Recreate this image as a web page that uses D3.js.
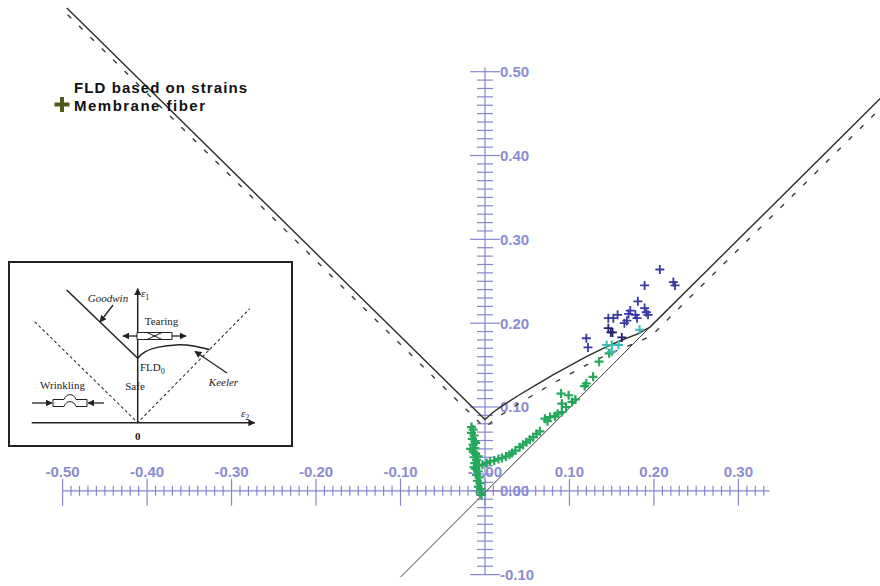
<!DOCTYPE html>
<html>
<head>
<meta charset="utf-8">
<script src="https://cdn.jsdelivr.net/npm/d3@7"></script>
<style>
  body { margin: 0; background: #fff; }
  svg { display: block; }
</style>
</head>
<body>
<svg id="chart" width="880" height="586"></svg>
<script>
// ---- axis ticks ----
const xMajorTicks = [-0.5, -0.4, -0.3, -0.2, -0.1, 0, 0.1, 0.2, 0.3];
const xTickLabels = ["-0.50", "-0.40", "-0.30", "-0.20", "-0.10", "-0.00", "0.10", "0.20", "0.30"];
const yMajorTicks = [0.5, 0.4, 0.3, 0.2, 0.1, 0, -0.1];
const yTickLabels = ["0.50", "0.40", "0.30", "0.20", "0.10", "0.00", "-0.10"];

// ---- forming limit curve (Goodwin branch + Keeler branch) ----
const flcMinor = [-0.495, 0, 0.01, 0.02, 0.04, 0.06, 0.08, 0.10, 0.12, 0.14, 0.16, 0.18, 0.195, 0.50];
const flcMajor = [0.576, 0.085, 0.094, 0.101, 0.114, 0.126, 0.138, 0.149, 0.160, 0.170, 0.179, 0.187, 0.195, 0.50];

// ---- safety curve (dashed) ----
const safeMinor = [-0.494, 0, 0.01, 0.02, 0.04, 0.06, 0.08, 0.10, 0.12, 0.14, 0.16, 0.18, 0.197, 0.50];
const safeMajor = [0.568, 0.075, 0.084, 0.091, 0.104, 0.116, 0.128, 0.139, 0.150, 0.160, 0.169, 0.177, 0.185, 0.488];

// ---- equal biaxial strain line ----
const biaxMinor = [-0.10, 0.195];
const biaxMajor = [-0.103, 0.195];

// ---- membrane fiber strains ----
const greenMinor = [-0.016, -0.014, -0.016, -0.013, -0.015, -0.012, -0.014, -0.012, -0.014, -0.011, -0.013, -0.010, -0.012, -0.009, -0.011, -0.008, -0.010, -0.007, -0.009, -0.006, -0.008, -0.005, -0.006, -0.004, -0.007, -0.011, -0.008, -0.017, -0.013,
  -0.003, 0.002, 0.006, 0.011, 0.016, 0.020, 0.025, 0.029, 0.032, 0.036, 0.041, 0.045, 0.049, 0.053, 0.057, 0.061, 0.065,
  0.071, 0.074, 0.077, 0.083, 0.086, 0.091, 0.091, 0.090, 0.099, 0.096, 0.103, 0.107, 0.118, 0.120, 0.128, 0.135, 0.147];
const greenMajor = [0.076, 0.073, 0.069, 0.066, 0.062, 0.059, 0.055, 0.051, 0.047, 0.044, 0.040, 0.037, 0.033, 0.030, 0.026, 0.023, 0.019, 0.016, 0.012, 0.009, 0.005, 0.002, -0.002, -0.005, 0.031, 0.057, 0.041, 0.050, 0.028,
  0.031, 0.033, 0.035, 0.036, 0.038, 0.039, 0.041, 0.043, 0.045, 0.048, 0.052, 0.055, 0.058, 0.061, 0.064, 0.068, 0.071,
  0.086, 0.083, 0.088, 0.089, 0.092, 0.094, 0.104, 0.116, 0.114, 0.100, 0.106, 0.109, 0.125, 0.128, 0.136, 0.154, 0.164];
const cyanMinor = [0.144, 0.150, 0.158, 0.183, 0.150];
const cyanMajor = [0.174, 0.174, 0.174, 0.192, 0.166];
const blueMinor = [0.207, 0.189, 0.225, 0.223, 0.181, 0.189, 0.191, 0.193, 0.146, 0.152, 0.157, 0.165, 0.170, 0.172, 0.178, 0.180, 0.168, 0.120, 0.122];
const blueMajor = [0.264, 0.245, 0.245, 0.249, 0.226, 0.218, 0.213, 0.210, 0.206, 0.206, 0.210, 0.200, 0.211, 0.215, 0.210, 0.206, 0.203, 0.182, 0.171];
const navyMinor = [0.146, 0.149, 0.151, 0.162];
const navyMajor = [0.194, 0.189, 0.189, 0.183];

const legendLabels = ["FLD based on strains", "Membrane fiber"];

// ---- scales ----
const x = d3.scaleLinear().domain([-0.5, 0.3]).range([62.6, 738.4]);
const y = d3.scaleLinear().domain([0, 0.5]).range([490.8, 71.7]);

const svg = d3.select("#chart");
const axisColor = "#8686d2";
const labelColor = "#8c8cd0";
const labelFont = "'Liberation Sans', Arial, sans-serif";

// ---- axes ----
const axes = svg.append("g");
// horizontal axis
axes.append("line")
  .attr("x1", x(-0.5)).attr("x2", x(0.337))
  .attr("y1", y(0)).attr("y2", y(0))
  .attr("stroke", axisColor).attr("stroke-width", 1.2);
const xMinor = d3.range(-50, 34).map(i => i / 100);
axes.selectAll(".xminor").data(xMinor).join("line")
  .attr("x1", d => x(d)).attr("x2", d => x(d))
  .attr("y1", d => Math.abs(Math.round(d * 100)) % 10 === 0 ? y(0) - 12 : y(0) - 5)
  .attr("y2", d => Math.abs(Math.round(d * 100)) % 10 === 0 ? y(0) + 15 : y(0) + 5)
  .attr("stroke", axisColor).attr("stroke-width", 1.2);
axes.selectAll(".xlab").data(xMajorTicks).join("text")
  .attr("x", d => x(d)).attr("y", y(0) - 14)
  .attr("text-anchor", "middle")
  .attr("font-family", labelFont).attr("font-weight", "bold").attr("font-size", 15)
  .attr("fill", labelColor)
  .text((d, i) => xTickLabels[i]);

// vertical axis
axes.append("line")
  .attr("x1", x(0)).attr("x2", x(0))
  .attr("y1", y(0.505)).attr("y2", y(-0.1))
  .attr("stroke", axisColor).attr("stroke-width", 1.2);
const yMinor = d3.range(-10, 51).map(i => i / 100);
axes.selectAll(".yminor").data(yMinor).join("line")
  .attr("y1", d => y(d)).attr("y2", d => y(d))
  .attr("x1", d => Math.abs(Math.round(d * 100)) % 10 === 0 ? x(0) - 15 : x(0) - 8)
  .attr("x2", d => Math.abs(Math.round(d * 100)) % 10 === 0 ? x(0) + 15 : x(0) + 8)
  .attr("stroke", axisColor).attr("stroke-width", 1.2);
axes.selectAll(".ylab").data(yMajorTicks).join("text")
  .attr("x", x(0) + 15).attr("y", d => y(d) + 5.5)
  .attr("font-family", labelFont).attr("font-weight", "bold").attr("font-size", 15)
  .attr("fill", labelColor)
  .text((d, i) => yTickLabels[i]);

// ---- curves ----
const line = d3.line().x(d => x(d[0])).y(d => y(d[1]));
const zip = (a, b) => a.map((v, i) => [v, b[i]]);

svg.append("path").datum(zip(biaxMinor, biaxMajor))
  .attr("d", line).attr("fill", "none")
  .attr("stroke", "#3a3a3a").attr("stroke-width", 1);

svg.append("path").datum(zip(safeMinor, safeMajor))
  .attr("d", line)
  .attr("fill", "none")
  .attr("stroke", "#3c3c30").attr("stroke-width", 1.4)
  .attr("stroke-dasharray", "5,11");

svg.append("path").datum(zip(flcMinor, flcMajor))
  .attr("d", line)
  .attr("fill", "none")
  .attr("stroke", "#2e2e26").attr("stroke-width", 1.4);

// ---- strain points ----
const plus = s => `M${-s},0H${s}M0,${-s}V${s}`;
function drawPoints(xs, ys, color, size, width) {
  svg.append("g").selectAll("path").data(zip(xs, ys)).join("path")
    .attr("transform", d => `translate(${x(d[0])},${y(d[1])})`)
    .attr("d", plus(size))
    .attr("stroke", color).attr("stroke-width", width).attr("fill", "none");
}
drawPoints(greenMinor, greenMajor, "#25a85a", 4.5, 2.2);
drawPoints(cyanMinor, cyanMajor, "#3cbcb4", 4.5, 2);
drawPoints(blueMinor, blueMajor, "#3838a6", 4.5, 1.8);
drawPoints(navyMinor, navyMajor, "#22226a", 4.5, 1.8);

// ---- legend ----
const legend = svg.append("g").attr("font-family", labelFont).attr("font-weight", "bold").attr("font-size", 15).attr("fill", "#111");
legend.append("text").attr("x", 74).attr("y", 93).attr("textLength", 173).attr("lengthAdjust", "spacing").text(legendLabels[0]);
legend.append("text").attr("x", 74).attr("y", 111).attr("textLength", 131).attr("lengthAdjust", "spacing").text(legendLabels[1]);
legend.append("path").attr("transform", "translate(62,104.5)").attr("d", plus(7.5))
  .attr("stroke", "#4f5a1c").attr("stroke-width", 4);

// ---- inset: forming limit diagram schematic ----
const ins = svg.append("g");
const defs = svg.append("defs");
defs.append("marker").attr("id", "arr").attr("viewBox", "0 0 10 10")
  .attr("refX", 9).attr("refY", 5).attr("markerWidth", 7).attr("markerHeight", 7)
  .attr("orient", "auto-start-reverse").attr("markerUnits", "userSpaceOnUse")
  .append("path").attr("d", "M0,0L10,5L0,10Z").attr("fill", "#222");

ins.append("rect").attr("x", 9).attr("y", 262).attr("width", 283).attr("height", 184)
  .attr("fill", "#fff").attr("stroke", "#222").attr("stroke-width", 2);

const ix = d3.scaleLinear().domain([0, 1]).range([137.7, 237.7]);
const iy = d3.scaleLinear().domain([0, 1]).range([422.7, 322.7]);
const iline = d3.line().x(d => ix(d[0])).y(d => iy(d[1]));
const iCurve = d3.line().curve(d3.curveBasis).x(d => ix(d[0])).y(d => iy(d[1]));

// schematic axes
ins.append("path").datum([[-1.06, 0], [1.17, 0]]).attr("d", iline)
  .attr("stroke", "#222").attr("stroke-width", 1.5).attr("marker-end", "url(#arr)");
ins.append("path").datum([[0, 0], [0, 1.34]]).attr("d", iline)
  .attr("stroke", "#222").attr("stroke-width", 1.5).attr("marker-end", "url(#arr)");
// dashed wrinkling limits
ins.append("path").datum([[-1.03, 1.01], [0, 0], [1.12, 1.14]]).attr("d", iline)
  .attr("fill", "none").attr("stroke", "#333").attr("stroke-width", 1.1).attr("stroke-dasharray", "3,2.5");
// Goodwin
ins.append("path").datum([[-0.71, 1.327], [0, 0.644]]).attr("d", iline)
  .attr("fill", "none").attr("stroke", "#222").attr("stroke-width", 1.5);
// Keeler
ins.append("path").datum([[0, 0.644], [0.06, 0.71], [0.2, 0.76], [0.39, 0.784], [0.56, 0.772], [0.72, 0.73]]).attr("d", iCurve)
  .attr("fill", "none").attr("stroke", "#222").attr("stroke-width", 1.5);

// pointer arrows
ins.append("line").attr("x1", 113).attr("y1", 305).attr("x2", 100).attr("y2", 322)
  .attr("stroke", "#222").attr("stroke-width", 1.3).attr("marker-end", "url(#arr)");
ins.append("line").attr("x1", 227).attr("y1", 373).attr("x2", 195).attr("y2", 351.5)
  .attr("stroke", "#222").attr("stroke-width", 1.3).attr("marker-end", "url(#arr)");

// tearing specimen with double arrow
ins.append("line").attr("x1", 137).attr("y1", 336).attr("x2", 123).attr("y2", 336)
  .attr("stroke", "#222").attr("stroke-width", 1.3).attr("marker-end", "url(#arr)");
ins.append("line").attr("x1", 172).attr("y1", 336).attr("x2", 186).attr("y2", 336)
  .attr("stroke", "#222").attr("stroke-width", 1.3).attr("marker-end", "url(#arr)");
ins.append("path").attr("d", "M137,332.5H172V339.5H137Z M147,332.5L162,339.5 M147,339.5L162,332.5")
  .attr("fill", "#fff").attr("stroke", "#222").attr("stroke-width", 1);

// wrinkling specimen with compressive arrows
ins.append("line").attr("x1", 32).attr("y1", 403).attr("x2", 52).attr("y2", 403)
  .attr("stroke", "#222").attr("stroke-width", 1.3).attr("marker-end", "url(#arr)");
ins.append("line").attr("x1", 104).attr("y1", 403).attr("x2", 88).attr("y2", 403)
  .attr("stroke", "#222").attr("stroke-width", 1.3).attr("marker-end", "url(#arr)");
ins.append("path").attr("d", "M53,399.5H64C66,393 74,393 76,399.5H87V406.5H76C74,400 66,400 64,406.5H53Z")
  .attr("fill", "#fff").attr("stroke", "#222").attr("stroke-width", 1);

// schematic labels
const serif = "'Liberation Serif', 'Times New Roman', serif";
const iText = (tx, ty, str, opts = {}) => ins.append("text").attr("x", tx).attr("y", ty)
  .attr("font-family", serif).attr("font-size", opts.size || 11).attr("fill", "#222")
  .attr("font-style", opts.italic ? "italic" : "normal")
  .attr("font-weight", opts.bold ? "bold" : "normal")
  .attr("text-anchor", opts.anchor || "start").text(str);

iText(108, 302, "Goodwin", { italic: true, anchor: "middle" });
iText(161.5, 325, "Tearing", { anchor: "middle" });
iText(62.5, 389, "Wrinkling", { anchor: "middle" });
iText(135, 390, "Safe", { anchor: "middle" });
iText(223.5, 386, "Keeler", { italic: true, anchor: "middle" });
iText(137.7, 440, "0", { bold: true, anchor: "middle", size: 11 });
const fldT = iText(140, 371, "FLD");
fldT.append("tspan").attr("dy", 3).attr("font-size", 8).text("0");
const e1 = iText(141, 297, "ε", { italic: true });
e1.append("tspan").attr("dy", 3).attr("font-size", 8).attr("font-style", "normal").text("1");
const e2 = iText(241, 417, "ε", { italic: true });
e2.append("tspan").attr("dy", 3).attr("font-size", 8).attr("font-style", "normal").text("2");
</script>
</body>
</html>
